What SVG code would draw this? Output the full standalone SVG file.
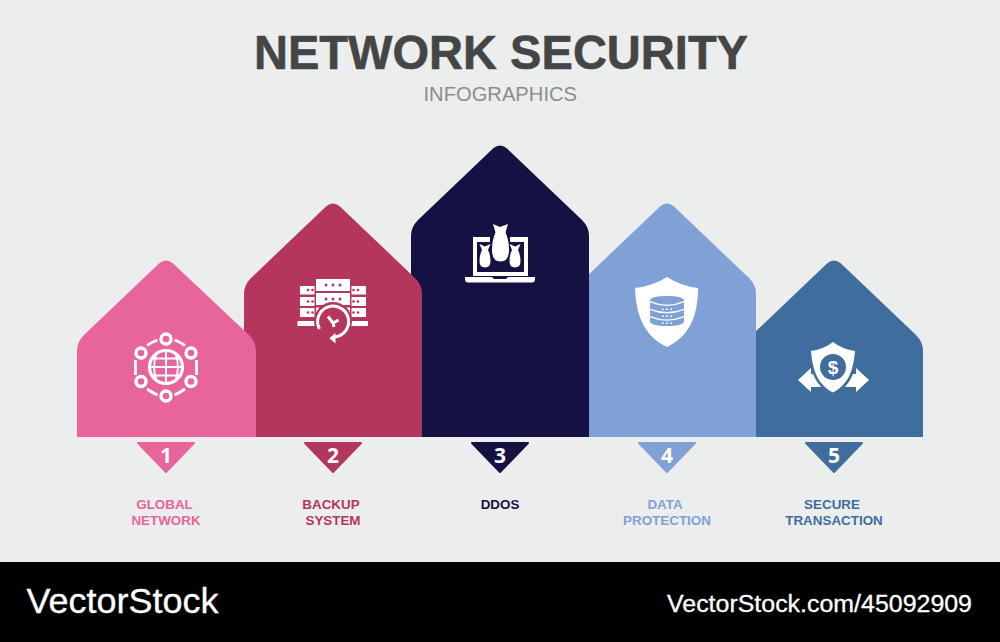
<svg xmlns="http://www.w3.org/2000/svg" width="1000" height="642" viewBox="0 0 1000 642">
<style>
.lab{font-family:"Liberation Sans",Arial,sans-serif;font-weight:700;font-size:13.4px;text-anchor:middle}
.num{font-family:"Open Sans","Noto Sans",sans-serif;font-weight:700;font-size:21px;fill:#fff;text-anchor:middle}
.foot{font-family:"Liberation Sans",Arial,sans-serif;fill:#fff}
.w{fill:#fff}
.ol{fill:none;stroke:#fff}
</style>
<rect width="1000" height="642" fill="#eceeed"/>
<rect y="562" width="1000" height="80" fill="#000"/>
<text x="254" y="68.700" font-family="Liberation Sans,Arial,sans-serif" font-weight="700" font-size="48.500" fill="#444645" stroke="#444645" stroke-width=".6" textLength="494" lengthAdjust="spacingAndGlyphs">NETWORK SECURITY</text>
<text x="423.500" y="101" font-family="Liberation Sans,Arial,sans-serif" font-size="20.800" fill="#8b8d8c" textLength="153.500" lengthAdjust="spacingAndGlyphs">INFOGRAPHICS</text>

<g id="node-5">
<path fill="#3f6d9e" d="M745 437V351q0-9 7-16L827 263.500q7-6 14 0L916 335q7 7 7 16V437Z"/>
<g id="icon-secure">
<path class="w" d="M798 380L811 368V374H822V387H811V392Z"/>
<path class="w" d="M869 380L856 368V374H845V387H856V392Z"/>
<path fill="#3f6d9e" d="M833 395C820 389 810 378 808 349L833 339L858 349C856 378 846 389 833 395Z"/>
<path class="w" d="M833 392.500C821 386 813 376 811 351Q824 349 833 342Q842 349 855 351C853 376 845 386 833 392.500Z"/>
<circle cx="833" cy="367" r="13" fill="#3f6d9e"/>
<text x="833" y="373.500" font-family="Liberation Sans,Arial,sans-serif" font-weight="700" font-size="19" fill="#fff" text-anchor="middle">$</text>
</g>
</g>

<g id="node-4">
<path fill="#7fa1d6" d="M578 437V294q0-9 7-16L660 206.500q7-6 14 0L749 278q7 7 7 16V437Z"/>
<g id="icon-data">
<path class="w" d="M667 277Q681 286 698 288C698 315 690 336 667 347C644 336 636 315 635 288Q653 286 667 277Z"/>
<path fill="#7fa1d6" d="M650 301Q650 296 667 296Q684 296 684 301V321Q684 326 667 326Q650 326 650 321Z"/>
<path class="ol" stroke-width="1.300" d="M650 301.700Q667 309 684 301.700M650 309.300Q667 316 684 309.300M650 316.700Q667 323.500 684 316.700"/>
<path class="w" d="M662 308.500h1.600v1.600h-1.600zM666.200 308.500h1.600v1.600h-1.600zM670.400 308.500h1.600v1.600h-1.600zM662 315.500h1.600v1.600h-1.600zM666.200 315.500h1.600v1.600h-1.600zM670.400 315.500h1.600v1.600h-1.600zM662 322.500h1.600v1.600h-1.600zM666.200 322.500h1.600v1.600h-1.600zM670.400 322.500h1.600v1.600h-1.600z"/>
</g>
</g>

<g id="node-3">
<path fill="#151142" d="M411 437V236q0-9 7-16L493 148.500q7-6 14 0L582 220q7 7 7 16V437Z"/>
<g id="icon-ddos">
<path fill-rule="evenodd" class="w" d="M473 237H528V276H473ZM477 242V272H524V242Z"/>
<path class="w" d="M465 277H492L494 279H506L508 277H535V279Q535 282.500 532 282.500H468Q465 282.500 465 279Z"/>
<path fill="#151142" d="M490 232H510V256L500 264L490 256Z"/>
<path class="w" d="M493 224L500 227L508 224L505.500 232.500Q509 240 509 250Q509 261.500 500.500 261.500Q492 261.500 492 250Q492 240 495.500 232.500Z"/>
<path class="w" d="M479.500 244L485 246.500L490.500 244L488 250Q490.500 255 490.500 261Q490.500 267.500 485 267.500Q479.500 267.500 479.500 261Q479.500 255 482 250Z"/>
<path class="w" d="M509.500 244L515 246.500L520.500 244L518 250Q520.500 255 520.500 261Q520.500 267.500 515 267.500Q509.500 267.500 509.500 261Q509.500 255 512 250Z"/>
</g>
</g>

<g id="node-2">
<path fill="#b5365c" d="M244 437V294q0-9 7-16L326 206.500q7-6 14 0L415 278q7 7 7 16V437Z"/>
<g id="icon-backup">
<g class="w">
<rect x="316" y="279" width="34" height="12"/><rect x="316" y="293" width="34" height="12"/><rect x="316" y="307.500" width="34" height="19"/>
<rect x="300" y="286" width="14.500" height="8.500"/><rect x="300" y="297" width="14.500" height="9"/><rect x="300" y="308" width="14.500" height="9"/>
<rect x="351.500" y="286" width="14.500" height="8.500"/><rect x="351.500" y="297" width="14.500" height="9"/><rect x="351.500" y="308" width="14.500" height="9"/>
<rect x="297.500" y="321" width="19" height="5"/><rect x="349.500" y="321" width="18.500" height="5"/>
</g>
<circle cx="333" cy="321" r="19" fill="#b5365c"/>
<path fill="#b5365c" d="M314 326H352V345H314Z"/>
<g fill="#b5365c">
<circle cx="326" cy="285" r="1.500"/><circle cx="333" cy="285" r="1.500"/><circle cx="340" cy="285" r="1.500"/>
<circle cx="326" cy="299" r="1.500"/><circle cx="333" cy="299" r="1.500"/><circle cx="340" cy="299" r="1.500"/>
<circle cx="308" cy="290" r="1.300"/><circle cx="312.500" cy="290" r="1.300"/><circle cx="308" cy="301.500" r="1.300"/><circle cx="312.500" cy="301.500" r="1.300"/><circle cx="308" cy="312.500" r="1.300"/><circle cx="312.500" cy="312.500" r="1.300"/>
<circle cx="353.500" cy="290" r="1.300"/><circle cx="358" cy="290" r="1.300"/><circle cx="353.500" cy="301.500" r="1.300"/><circle cx="358" cy="301.500" r="1.300"/><circle cx="353.500" cy="312.500" r="1.300"/><circle cx="358" cy="312.500" r="1.300"/>
</g>
<path class="ol" stroke-width="3" d="M319.500 329A15.500 15.500 0 1 1 335 337"/>
<path class="w" d="M329.300 338.300L335.500 333V343.500Z"/>
<path class="ol" stroke-width="3" d="M328 316.500L333 323L338.500 320M333 323L334 327"/>
</g>
</g>

<g id="node-1">
<path fill="#e7659b" d="M77 437V351q0-9 7-16L159 263.500q7-6 14 0L249 335q7 7 7 16V437Z"/>
<g id="icon-global">
<circle class="ol" cx="166" cy="367" r="16.500" stroke-width="3.200"/>
<path class="ol" stroke-width="2" d="M166 350V384M157 352Q151 367 157 382M175 352Q181 367 175 382M151 358.500H181M149.500 367H182.500M151 375.500H181"/>
<g class="ol" stroke-width="3.400">
<circle cx="166" cy="339" r="5"/><circle cx="166" cy="396" r="5"/>
<circle cx="141" cy="353" r="5"/><circle cx="191" cy="353" r="5"/>
<circle cx="141" cy="381.500" r="5"/><circle cx="191" cy="381.500" r="5"/>
<path stroke-width="2.800" d="M147 345.500Q152 342 157.500 340M174.500 340Q180 342 185 345.500M196.500 360V375M135.500 360V375M147 389Q152 392.500 157.500 395M174.500 395Q180 392.500 185 389"/>
</g>
</g>
</g>

<g id="connectors"></g>

<g id="badge-1"><path fill="#e7659b" stroke="#e7659b" stroke-width="2" stroke-linejoin="round" d="M138 443H194L166 472Z"/><text class="num" x="166" y="462.500">1</text></g>
<g id="badge-2"><path fill="#b5365c" stroke="#b5365c" stroke-width="2" stroke-linejoin="round" d="M305 443H361L333 472Z"/><text class="num" x="333" y="462.500">2</text></g>
<g id="badge-3"><path fill="#151142" stroke="#151142" stroke-width="2" stroke-linejoin="round" d="M472 443H528L500 472Z"/><text class="num" x="500" y="462.500">3</text></g>
<g id="badge-4"><path fill="#7fa1d6" stroke="#7fa1d6" stroke-width="2" stroke-linejoin="round" d="M639 443H695L667 472Z"/><text class="num" x="667" y="462.500">4</text></g>
<g id="badge-5"><path fill="#3f6d9e" stroke="#3f6d9e" stroke-width="2" stroke-linejoin="round" d="M806 443H862L834 472Z"/><text class="num" x="834" y="462.500">5</text></g>

<g id="labels">
<text class="lab" fill="#e7659b"><tspan x="164.500" y="509">GLOBAL</tspan><tspan x="166" y="525">NETWORK</tspan></text>
<text class="lab" fill="#b5365c"><tspan x="331" y="509">BACKUP</tspan><tspan x="333" y="525">SYSTEM</tspan></text>
<text class="lab" fill="#151142" x="500" y="509">DDOS</text>
<text class="lab" fill="#7fa1d6"><tspan x="665" y="509">DATA</tspan><tspan x="667" y="525">PROTECTION</tspan></text>
<text class="lab" fill="#3f6d9e"><tspan x="832" y="509">SECURE</tspan><tspan x="834" y="525">TRANSACTION</tspan></text>
</g>

<text class="foot" x="26.500" y="613" font-size="35" textLength="192" lengthAdjust="spacingAndGlyphs" stroke="#fff" stroke-width=".3">VectorStock</text>
<text class="foot" x="667" y="612" font-size="23" textLength="305" lengthAdjust="spacingAndGlyphs" stroke="#fff" stroke-width=".3">VectorStock.com/45092909</text>
</svg>
